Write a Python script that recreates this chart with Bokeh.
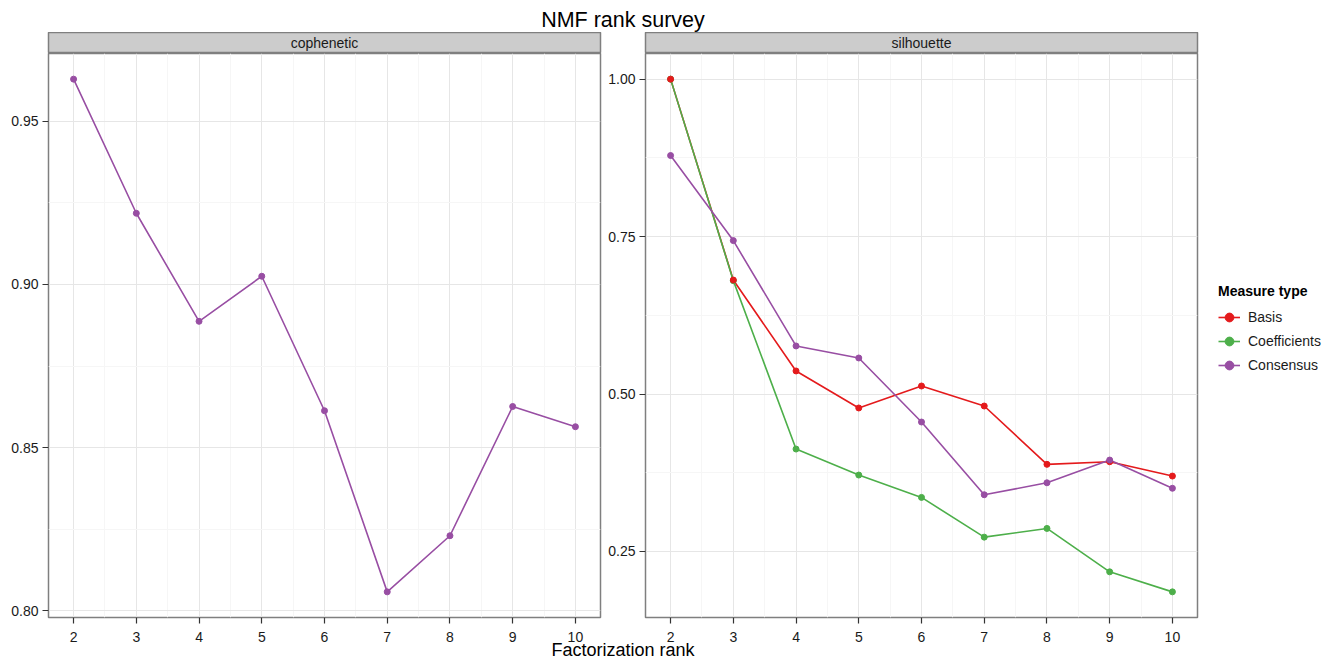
from bokeh.plotting import figure
from bokeh.models import Range1d, FixedTicker, PrintfTickFormatter, Legend, LegendItem, Label, Div
from bokeh.layouts import row, column
from bokeh.embed import file_html
from bokeh.resources import INLINE

# ---------------- data ----------------
ranks = [2, 3, 4, 5, 6, 7, 8, 9, 10]
cophenetic_consensus = [0.9629, 0.9218, 0.8887, 0.9025, 0.8613, 0.8058, 0.8230, 0.8626, 0.8564]
silhouette_basis = [1.000, 0.681, 0.5366, 0.4778, 0.5127, 0.4809, 0.3883, 0.3924, 0.3697]
silhouette_coefficients = [1.000, 0.680, 0.4126, 0.3713, 0.3358, 0.2727, 0.2865, 0.2176, 0.1858]
silhouette_consensus = [0.8787, 0.7436, 0.5763, 0.5572, 0.4555, 0.3400, 0.3590, 0.3951, 0.3503]
facet_labels = ["cophenetic", "silhouette"]
measure_types = ["Basis", "Coefficients", "Consensus"]
cophenetic_ticks = [0.80, 0.85, 0.90, 0.95]
silhouette_ticks = [0.25, 0.50, 0.75, 1.00]
chart_title = "NMF rank survey"
x_title = "Factorization rank"
legend_title = "Measure type"

# ---------------- styles ----------------
FONT = "Liberation Sans"
COLORS = {"Basis": "#E41A1C", "Coefficients": "#4DAF4A", "Consensus": "#984EA3"}
TEXT = "#1A1A1A"
BORDER = "#7F7F7F"
FRAME_W, FRAME_H = 552, 564


def expand(lo, hi, mult=0.05):
    pad = (hi - lo) * mult
    return lo - pad, hi + pad


def minor_of(ticks, lo, hi):
    step = ticks[1] - ticks[0]
    cands = [ticks[0] - step / 2] + [t + step / 2 for t in ticks]
    return [c for c in cands if lo <= c <= hi]


def panel(yvals_all, yticks, left_border, right_border):
    xlo, xhi = expand(min(ranks), max(ranks))
    ylo, yhi = expand(min(yvals_all), max(yvals_all))
    p = figure(frame_width=FRAME_W, frame_height=FRAME_H,
               x_range=Range1d(xlo, xhi), y_range=Range1d(ylo, yhi),
               min_border_left=left_border, min_border_right=right_border,
               min_border_top=0, min_border_bottom=30,
               toolbar_location=None, output_backend="svg", title=None)
    p.background_fill_color = "white"
    p.border_fill_color = "white"
    p.outline_line_color = BORDER
    p.outline_line_width = 1.5
    p.xaxis.ticker = FixedTicker(ticks=ranks, minor_ticks=minor_of(ranks, xlo, xhi))
    p.yaxis.ticker = FixedTicker(ticks=yticks, minor_ticks=minor_of(yticks, ylo, yhi))
    p.yaxis.formatter = PrintfTickFormatter(format="%.2f")
    for ax in (p.xaxis, p.yaxis):
        ax.axis_line_color = None
        ax.major_tick_in = 0
        ax.major_tick_out = 6
        ax.major_tick_line_color = "#333333"
        ax.major_tick_line_width = 1.2
        ax.minor_tick_line_color = None
        ax.major_label_text_font = FONT
        ax.major_label_text_font_size = "14px"
        ax.major_label_text_color = TEXT
    p.xaxis.major_label_standoff = 8
    p.yaxis.major_label_standoff = 4
    for g in (p.xgrid, p.ygrid):
        g.grid_line_color = "#E6E6E6"
        g.grid_line_width = 1
        g.minor_grid_line_color = "#F6F6F6"
        g.minor_grid_line_width = 1
    return p


def strip(label, left_border):
    s = figure(frame_width=FRAME_W, frame_height=21,
               x_range=Range1d(0, 1), y_range=Range1d(0, 1),
               min_border_left=left_border, min_border_right=5,
               min_border_top=0, min_border_bottom=0,
               x_axis_location=None, y_axis_location=None,
               toolbar_location=None, output_backend="svg", title=None)
    s.grid.visible = False
    s.background_fill_color = "#CCCCCC"
    s.border_fill_color = "white"
    s.outline_line_color = BORDER
    s.outline_line_width = 1.5
    s.add_layout(Label(x=0.5, y=0.5, text=label, text_align="center", text_baseline="middle",
                       text_font=FONT, text_font_size="14px", text_color=TEXT))
    return s


# ---------------- left panel: cophenetic ----------------
p1 = panel(cophenetic_consensus, cophenetic_ticks, 48, 5)
p1.line(ranks, cophenetic_consensus, line_color=COLORS["Consensus"], line_width=1.6)
p1.scatter(ranks, cophenetic_consensus, size=6, fill_color=COLORS["Consensus"],
           line_color=COLORS["Consensus"])

# ---------------- right panel: silhouette ----------------
series = {"Basis": silhouette_basis, "Coefficients": silhouette_coefficients,
          "Consensus": silhouette_consensus}
p2 = panel(silhouette_basis + silhouette_coefficients + silhouette_consensus,
           silhouette_ticks, 40, 125)
lines = {}
for name in measure_types:
    lines[name] = p2.line(ranks, series[name], line_color=COLORS[name], line_width=1.6)
pts = {}
for name in ["Coefficients", "Basis", "Consensus"]:
    pts[name] = p2.scatter(ranks, series[name], size=6, fill_color=COLORS[name],
                           line_color=COLORS[name])

items = [LegendItem(label=name, renderers=[lines[name], pts[name]]) for name in measure_types]
legend = Legend(items=items, title=legend_title, location=(21, 240),
                margin=0, padding=0, spacing=0,
                glyph_width=22, glyph_height=24, label_height=24, label_standoff=8,
                title_standoff=6, border_line_color=None, background_fill_alpha=0,
                label_text_font=FONT, label_text_font_size="14px", label_text_color=TEXT,
                title_text_font=FONT, title_text_font_size="14px",
                title_text_font_style="bold", title_text_color="black")
p2.add_layout(legend, "right")

s1 = strip(facet_labels[0], 48)
s2 = strip(facet_labels[1], 40)

title_div = Div(text=chart_title, width=1246, height=24, margin=(8, 0, 0, 0),
                styles={"font-family": FONT, "font-size": "21.5px", "line-height": "24px",
                        "text-align": "center", "color": "black"})
xlab_div = Div(text=x_title, width=1246, height=14, margin=(-4, 0, 0, 0),
               styles={"font-family": FONT, "font-size": "18px", "line-height": "14px",
                       "text-align": "center", "color": "black"})

layout = column(title_div, row(column(s1, p1), column(s2, p2)), xlab_div)

open("out.html", "w").write(file_html(layout, INLINE))
